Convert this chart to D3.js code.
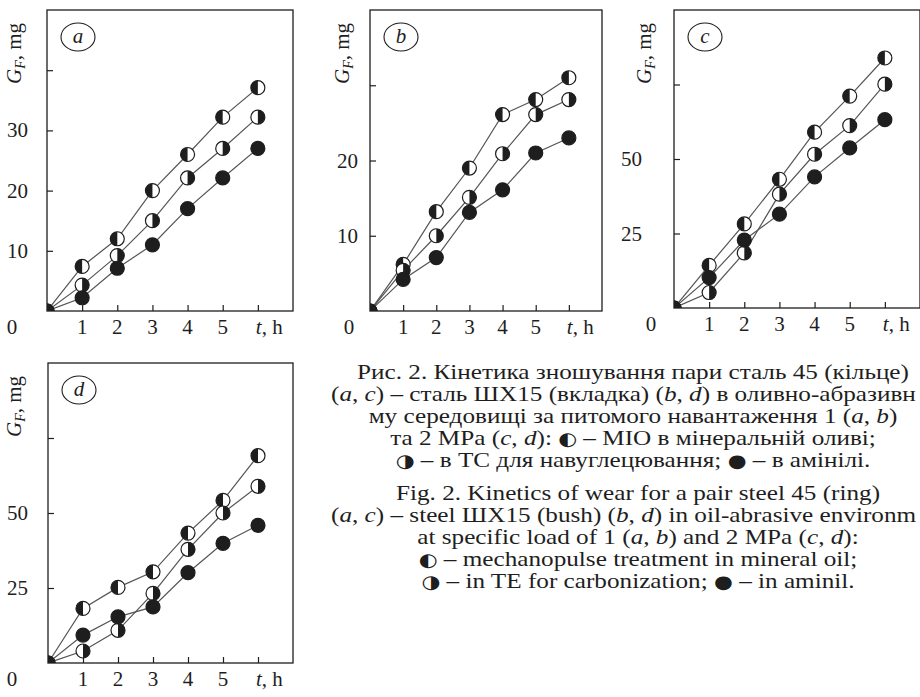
<!DOCTYPE html>
<html lang="uk">
<head>
<meta charset="UTF-8">
<title>Кінетика зношування</title>
<script src="https://d3js.org/d3.v7.min.js"></script>
<style>
  body { margin: 0; background: #fff; }
  svg { display: block; font-family: "Liberation Serif", "DejaVu Serif", serif; }
  .sym { font-family: "DejaVu Sans", sans-serif; font-size: 18px; }
</style>
</head>
<body>
<div id="chart"></div>
<script>
// time points, h
const hours = [0, 1, 2, 3, 4, 5, 6];
const xTickLabels = ["1", "2", "3", "4", "5"];

// wear G_F, mg  (◐ MIO in mineral oil, ◑ TE for carbonization, ● aminil)
const aMio    = [0, 7.4, 12.0, 20.0, 26.0, 32.2, 37.1];
const aTe     = [0, 4.3, 9.2, 15.0, 22.1, 27.0, 32.2];
const aAminil = [0, 2.2, 7.1, 11.0, 17.0, 22.1, 27.0];

const bMio    = [0, 6.2, 13.2, 19.0, 26.1, 28.1, 31.0];
const bTe     = [0, 5.4, 10.0, 15.1, 20.9, 26.1, 28.1];
const bAminil = [0, 4.2, 7.1, 13.1, 16.1, 21.0, 23.0];

const cMio    = [0, 14.3, 28.2, 43.2, 59.0, 71.1, 83.9];
const cTe     = [0, 5.2, 18.5, 38.2, 51.6, 61.2, 75.1];
const cAminil = [0, 10.2, 22.8, 31.5, 44.0, 53.7, 63.2];

const dMio    = [0, 18.2, 25.2, 30.4, 43.3, 54.2, 69.1];
const dTe     = [0, 4.0, 10.9, 23.2, 37.9, 50.0, 58.9];
const dAminil = [0, 9.3, 15.4, 18.7, 30.1, 39.9, 45.9];

const yTicksA = [10, 20, 30, 40];
const yLabelsA = [10, 20, 30];
const yTicksB = [10, 20, 30];
const yLabelsB = [10, 20];
const yTicksCD = [25, 50, 75];
const yLabelsCD = [25, 50];

// *x* = italic letter; line 2 is cut at the page edge as in the scan
const captionUa = [
    "Рис. 2. Кінетика зношування пари сталь 45 (кільце)",
    "(*a*, *c*) – сталь ШХ15 (вкладка) (*b*, *d*) в оливно-абразивн",
    "му середовищі за питомого навантаження 1 (*a*, *b*)",
    "та 2 МРа (*c*, *d*): ◐ – МІО в мінеральній оливі;",
    "◑ – в ТС для навуглецювання; ● – в амінілі."
];
const captionEn = [
    "Fig. 2. Kinetics of wear for a pair steel 45 (ring)",
    "(*a*, *c*) – steel ШХ15 (bush) (*b*, *d*) in oil-abrasive environm",
    "at specific load of 1 (*a*, *b*) and 2 MPa (*c*, *d*):",
    "◐ – mechanopulse treatment in mineral oil;",
    "◑ – in TE for carbonization; ● – in aminil."
];

const W = 920, H = 697;
const ink = "#1e1e1e";
const R = 7;
const fs = 21;

const svg = d3.select("#chart").append("svg")
    .attr("width", W).attr("height", H);

const panels = [
    { letter: "a", left: 47, top: 10, right: 293, bottom: 311, yMax: 50,
      ticks: yTicksA, labels: yLabelsA, labelRight: 28, zeroX: 12, titleX: 21,
      series: [aMio, aTe, aAminil] },
    { letter: "b", left: 370, top: 10, right: 602, bottom: 311, yMax: 40,
      ticks: yTicksB, labels: yLabelsB, labelRight: 358, zeroX: 349, titleX: 349,
      series: [bMio, bTe, bAminil] },
    { letter: "c", left: 674, top: 10, right: 920, bottom: 308, yMax: 100,
      ticks: yTicksCD, labels: yLabelsCD, labelRight: 642, zeroX: 651, titleX: 651,
      series: [cMio, cTe, cAminil] },
    { letter: "d", left: 48, top: 363, right: 293, bottom: 663, yMax: 100,
      ticks: yTicksCD, labels: yLabelsCD, labelRight: 28, zeroX: 12, titleX: 21,
      series: [dMio, dTe, dAminil] }
];
const markerKinds = ["left", "right", "full"];

function drawMarker(g, x, y, kind) {
    g.append("circle")
        .attr("cx", x).attr("cy", y).attr("r", R)
        .attr("fill", kind === "full" ? ink : "#fff")
        .attr("stroke", ink).attr("stroke-width", 1.2);
    if (kind !== "full") {
        const sweep = kind === "left" ? 0 : 1;
        g.append("path")
            .attr("d", `M${x},${y - R} A${R},${R} 0 0 ${sweep} ${x},${y + R} Z`)
            .attr("fill", ink);
    }
}

panels.forEach(p => {
    const x = d3.scaleLinear().domain([0, 7]).range([p.left, p.right]);
    const y = d3.scaleLinear().domain([0, p.yMax]).range([p.bottom, p.top]);
    const g = svg.append("g");

    const clipId = "clip-" + p.letter;
    svg.append("clipPath").attr("id", clipId)
        .append("rect")
        .attr("x", p.left).attr("y", p.top)
        .attr("width", p.right - p.left).attr("height", p.bottom - p.top);

    // frame
    g.append("rect")
        .attr("x", p.left).attr("y", p.top)
        .attr("width", p.right - p.left).attr("height", p.bottom - p.top)
        .attr("fill", "none").attr("stroke", ink).attr("stroke-width", 1.3);

    // inward ticks
    g.append("g")
        .attr("transform", `translate(0,${p.bottom})`)
        .call(d3.axisTop(x).tickValues(hours.slice(1)).tickSize(6).tickFormat(""))
        .call(a => a.select(".domain").remove())
        .call(a => a.selectAll("line").attr("stroke", ink).attr("stroke-width", 1.2));
    g.append("g")
        .attr("transform", `translate(${p.left},0)`)
        .call(d3.axisRight(y).tickValues(p.ticks).tickSize(6).tickFormat(""))
        .call(a => a.select(".domain").remove())
        .call(a => a.selectAll("line").attr("stroke", ink).attr("stroke-width", 1.2));

    // tick labels
    g.selectAll(".xl").data(xTickLabels).join("text")
        .attr("x", (d, k) => x(hours[k + 1]))
        .attr("y", p.bottom + 23)
        .attr("text-anchor", "middle")
        .attr("font-size", fs).attr("fill", ink)
        .text(d => d);
    const th = g.append("text")
        .attr("x", x(6) - 2).attr("y", p.bottom + 23)
        .attr("font-size", fs).attr("fill", ink);
    th.append("tspan").attr("font-style", "italic").text("t");
    th.append("tspan").text(", h");

    g.selectAll(".yl").data(p.labels).join("text")
        .attr("x", p.labelRight)
        .attr("y", d => y(d) + 7)
        .attr("text-anchor", "end")
        .attr("font-size", fs).attr("fill", ink)
        .text(d => d);
    g.append("text")
        .attr("x", p.zeroX).attr("y", p.bottom + 23)
        .attr("text-anchor", "middle")
        .attr("font-size", fs).attr("fill", ink)
        .text("0");

    // y title
    const yt = g.append("text")
        .attr("transform", `translate(${p.titleX},${p.top + 74}) rotate(-90)`)
        .attr("font-size", fs).attr("fill", ink);
    yt.append("tspan").attr("font-style", "italic").text("G");
    yt.append("tspan").attr("font-style", "italic").attr("font-size", 14)
        .attr("dy", 4).text("F");
    yt.append("tspan").attr("dy", -4).text(", mg");

    // panel letter
    g.append("ellipse")
        .attr("cx", p.left + 31).attr("cy", p.top + 27)
        .attr("rx", 17).attr("ry", 14)
        .attr("fill", "none").attr("stroke", ink).attr("stroke-width", 1.1);
    g.append("text")
        .attr("x", p.left + 31).attr("y", p.top + 33)
        .attr("text-anchor", "middle")
        .attr("font-size", fs).attr("font-style", "italic").attr("fill", ink)
        .text(p.letter);

    // lines and markers
    const plot = g.append("g").attr("clip-path", `url(#${clipId})`);
    const line = d3.line().x((d, k) => x(hours[k])).y(d => y(d));
    p.series.forEach(s => {
        plot.append("path").datum(s)
            .attr("d", line)
            .attr("fill", "none").attr("stroke", "#555").attr("stroke-width", 1.2);
    });
    p.series.forEach((s, j) => {
        s.forEach((v, k) => drawMarker(plot, x(hours[k]), y(v), markerKinds[j]));
    });
});

// caption: the scanned typeface is set wide, so stretch horizontally
function captionBlock(lines, cx, y0) {
    lines.forEach((t, i) => {
        const txt = svg.append("text")
            .attr("text-anchor", "middle")
            .attr("font-size", fs).attr("fill", ink);
        t.split(/(\*[a-d]\*|[◐◑●])/).forEach(part => {
            if (!part) return;
            if (/^\*[a-d]\*$/.test(part)) {
                txt.append("tspan").attr("font-style", "italic").text(part[1]);
            } else if (/[◐◑●]/.test(part)) {
                txt.append("tspan").attr("class", "sym").text(part);
            } else {
                txt.append("tspan").text(part);
            }
        });
        // the cut line starts at the left like in the scan
        if (i === 1) {
            txt.attr("text-anchor", "start")
                .attr("transform", `translate(331,${y0 + i * 22}) scale(1.2,1)`);
        } else {
            txt.attr("transform", `translate(${cx},${y0 + i * 22}) scale(1.2,1)`);
        }
    });
}
captionBlock(captionUa, 633, 379);
captionBlock(captionEn, 638, 500);
</script>
</body>
</html>
